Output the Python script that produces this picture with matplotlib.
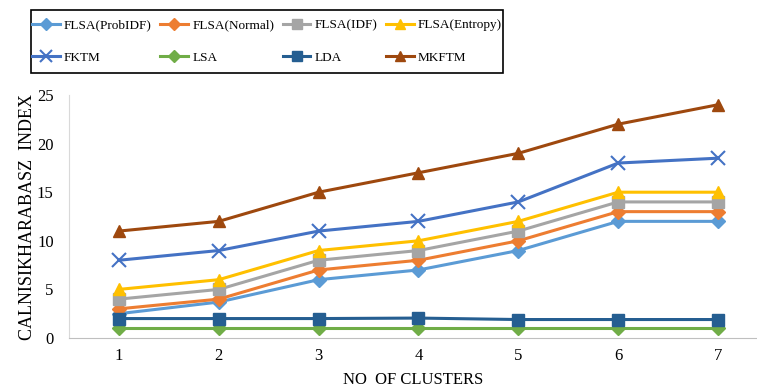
import matplotlib.pyplot as plt
from matplotlib.patches import Rectangle
import numpy as np

plt.rcParams['font.family'] = ['Liberation Serif', 'DejaVu Serif']

# ---------------------------#
# Data
# ---------------------------#
clusters = ["1", "2", "3", "4", "5", "6", "7"]

flsa_probidf = [2.5, 3.7, 6, 7, 9, 12, 12]
flsa_normal = [3, 4, 7, 8, 10, 13, 13]
flsa_idf = [4, 5, 8, 9, 11, 14, 14]
flsa_entropy = [5, 6, 9, 10, 12, 15, 15]
fktm = [8, 9, 11, 12, 14, 18, 18.5]
lsa = [1, 1, 1, 1, 1, 1, 1]
lda = [2, 2, 2, 2.05, 1.9, 1.9, 1.9]
mkftm = [11, 12, 15, 17, 19, 22, 24]

series = [
    ("FLSA(ProbIDF)", flsa_probidf, "#5B9BD5", "D"),
    ("FLSA(Normal)", flsa_normal, "#ED7D31", "D"),
    ("FLSA(IDF)", flsa_idf, "#A5A5A5", "s"),
    ("FLSA(Entropy)", flsa_entropy, "#FFC000", "^"),
    ("FKTM", fktm, "#4472C4", "x"),
    ("LSA", lsa, "#70AD47", "D"),
    ("LDA", lda, "#255E91", "s"),
    ("MKFTM", mkftm, "#9E480E", "^"),
]

W, H = 757, 391

# ---------------------------#
# Plot
# ---------------------------#
fig = plt.figure(figsize=(W / 100, H / 100), dpi=100)
ax = fig.add_axes([69 / W, 1 - 338 / H, 1 - 69 / W, (338 - 95) / H])

x = np.arange(1, len(clusters) + 1)
handles = []
for name, vals, color, mk in series:
    ms = {"x": 10, "D": 7, "s": 8, "^": 9}[mk]
    h, = ax.plot(x, vals, color=color, lw=2.2, marker=mk, markersize=ms,
                 markeredgewidth=1.5 if mk == "x" else 1, label=name)
    handles.append(h)

ax.set_xlim(0.5, 7.39)
ax.set_ylim(0, 25)
ax.set_xticks(x)
ax.set_xticklabels(clusters)
ax.set_yticks([0, 5, 10, 15, 20, 25])
ax.tick_params(length=0, labelsize=12, pad=7)
ax.tick_params(axis="y", pad=11)

for side in ["top", "right"]:
    ax.spines[side].set_visible(False)
ax.spines["left"].set_color("#d9d9d9")
ax.spines["bottom"].set_color("#bfbfbf")

ax.set_xlabel("NO  OF CLUSTERS", fontsize=12, labelpad=6)
ax.set_ylabel("CALNISIKHARABASZ  INDEX", fontsize=13, labelpad=1)

# legend is filled row by row, matplotlib fills column by column
order = [0, 4, 1, 5, 2, 6, 3, 7]
leg_box = (31 / W, 1 - 73 / H, 472 / W, 63 / H)
leg = fig.legend([handles[i] for i in order], [series[i][0] for i in order],
                 loc="center", bbox_to_anchor=leg_box, mode="expand",
                 ncol=4, fontsize=9.5, frameon=False, handlelength=2.1,
                 handletextpad=0.3, columnspacing=0.3, labelspacing=1.55,
                 borderpad=0.1, borderaxespad=0, markerscale=0.85)
fig.patches.append(Rectangle(leg_box[:2], leg_box[2], leg_box[3],
                             transform=fig.transFigure, fill=False,
                             edgecolor="black", lw=1.2))

fig.savefig("out.png", dpi=100)
